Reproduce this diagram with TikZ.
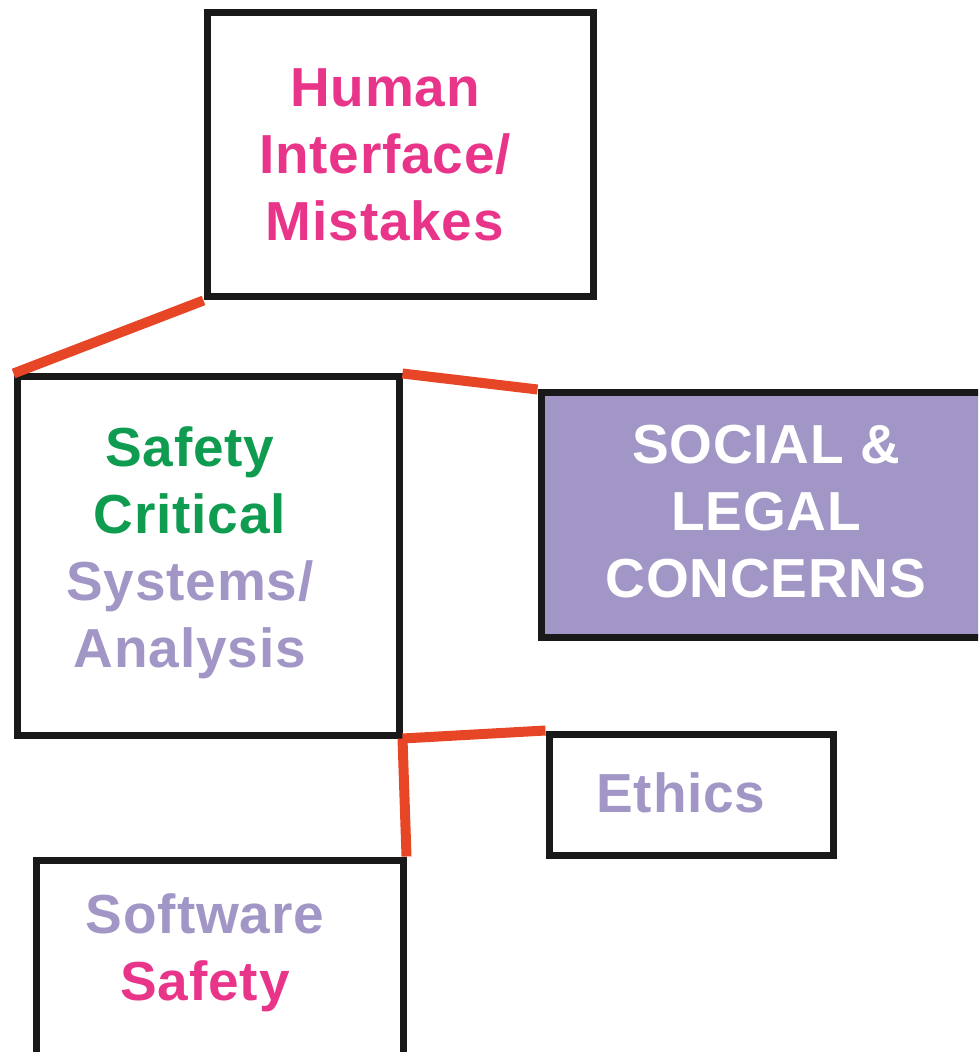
\documentclass[tikz,border=0pt]{standalone}
\usepackage{fontspec}
\setmainfont{Liberation Sans}[LetterSpace=1.5]
\usetikzlibrary{positioning}

\definecolor{hotpink}{HTML}{E8358A}
\definecolor{safegreen}{HTML}{0F9B50}
\definecolor{lavender}{HTML}{A196C5}
\definecolor{linkred}{HTML}{E64626}

\tikzset{
  box/.style={draw=black!90, line width=3.5pt, inner sep=0pt},
  txt/.style={font=\bfseries\fontsize{27.5}{33.5}\selectfont, align=center},
  link/.style={draw=linkred, line width=5pt}
}

\begin{document}
\begin{tikzpicture}[x=0.5pt,y=-0.5pt]
\useasboundingbox (0,0) rectangle (978,1052);
\clip (0,0) rectangle (978,1052);

% Boxes
\node[box, minimum width=193pt, minimum height=142pt] (human) at (400,155) {};
\node[box, minimum width=191pt, minimum height=179pt] (safety) at (208,556) {};
\node[box, fill=lavender, minimum width=230pt, minimum height=122pt] (social) at (771,515) {};
\node[box, minimum width=142pt, minimum height=60.5pt] (ethics) at (691,794.5) {};
\node[box, minimum width=183.5pt, minimum height=120pt] (soft) at (219.5,980) {};

% Labels
\node[txt, text=hotpink] (humantxt) at (385,155) {Human\\Interface/\\Mistakes};
\node[txt] (safetytxt) at (190,553) {\textcolor{safegreen}{Safety}\\\textcolor{safegreen}{Critical}\\\textcolor{lavender}{Systems/}\\\textcolor{lavender}{Analysis}};
\node[txt, text=white] (socialtxt) at (766,512) {SOCIAL \&\\LEGAL\\CONCERNS};
\node[txt, text=lavender] (ethicstxt) at (681,793) {Ethics};
\node[txt] (softtxt) at (205,953) {\textcolor{lavender}{Software}\\\textcolor{hotpink}{Safety}};

% Links
\draw[link] (human.south west) -- (safety.north west);
\draw[link] (safety.north east) -- (social.north west);
\draw[link] (safety.south east) -- (ethics.north west);
\draw[link] (safety.south east) -- (soft.north east);
\end{tikzpicture}
\end{document}
